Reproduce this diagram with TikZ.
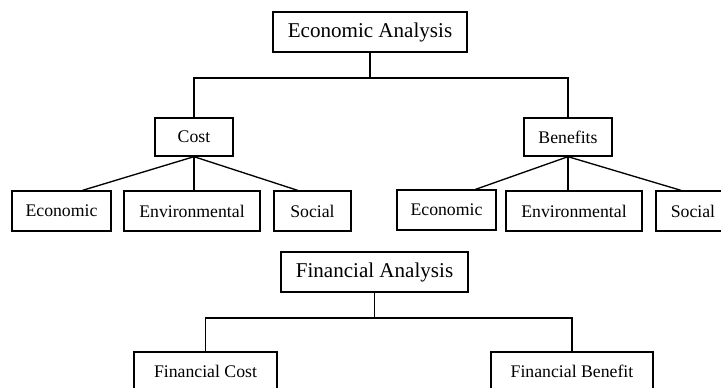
\documentclass[tikz,border=0pt]{standalone}
\usepackage{fontspec}
\setmainfont{Liberation Serif}
\usetikzlibrary{calc}

\tikzset{
  box/.style={draw, line width=1pt, inner sep=0pt, align=center,
    font=\fontsize{13.3}{16}\selectfont},
  headbox/.style={box, minimum height=30pt, font=\fontsize{15.8}{19}\selectfont},
  leafbox/.style={box, minimum height=30pt},
  link/.style={line width=1pt},
}

\begin{document}
\begin{tikzpicture}[x=0.75pt, y=-0.75pt]
  \clip (0,0) rectangle (721,387);

  % economic analysis tree
  \node[headbox, minimum width=145.5pt] (econ) at (370,32) {Economic Analysis};
  \node[box, minimum width=58.5pt, minimum height=28.5pt] (cost) at (194,137) {Cost};
  \node[box, minimum width=66pt, minimum height=28.5pt] (ben) at (568,137) {Benefits};

  \node[leafbox, minimum width=74.25pt] (lecon) at (61.5,211) {Economic};
  \node[leafbox, minimum width=102pt] (lenv) at (192,211) {Environmental};
  \node[leafbox, minimum width=57.75pt] (lsoc) at (312.5,211) {Social};

  \node[leafbox, minimum width=74.25pt] (recon) at (446.5,210) {Economic};
  \node[leafbox, minimum width=102pt] (renv) at (574,211) {Environmental};
  \node[leafbox, minimum width=55.5pt] (rsoc) at (693,211) {Social};

  \coordinate (ebus) at (econ.south |- 0,78);
  \draw[link] (econ.south) -- (ebus);
  \draw[link] (cost.north) |- (ebus) -| (ben.north);

  \draw[link] (cost.south) -- ($(lecon.north west)!0.71!(lecon.north east)$);
  \draw[link] (cost.south) -- (cost.south |- lenv.north);
  \draw[link] (cost.south) -- ($(lsoc.north west)!0.31!(lsoc.north east)$);

  \draw[link] (ben.south) -- ($(recon.north west)!0.79!(recon.north east)$);
  \draw[link] (ben.south) -- (ben.south |- renv.north);
  \draw[link] (ben.south) -- ($(rsoc.north west)!0.34!(rsoc.north east)$);

  % financial analysis tree
  \node[headbox, minimum width=140.25pt] (fin) at (374.5,272) {Financial Analysis};
  \node[box, minimum width=107.25pt, minimum height=28.5pt] (fcost) at (205.5,371) {Financial Cost};
  \node[box, minimum width=121.5pt, minimum height=28.5pt] (fben) at (572,371) {Financial Benefit};

  \coordinate (fbus) at (fin.south |- 0,318);
  \draw[link] (fin.south) -- (fbus);
  \draw[link] (fcost.north) |- (fbus) -| (fben.north);
\end{tikzpicture}
\end{document}
